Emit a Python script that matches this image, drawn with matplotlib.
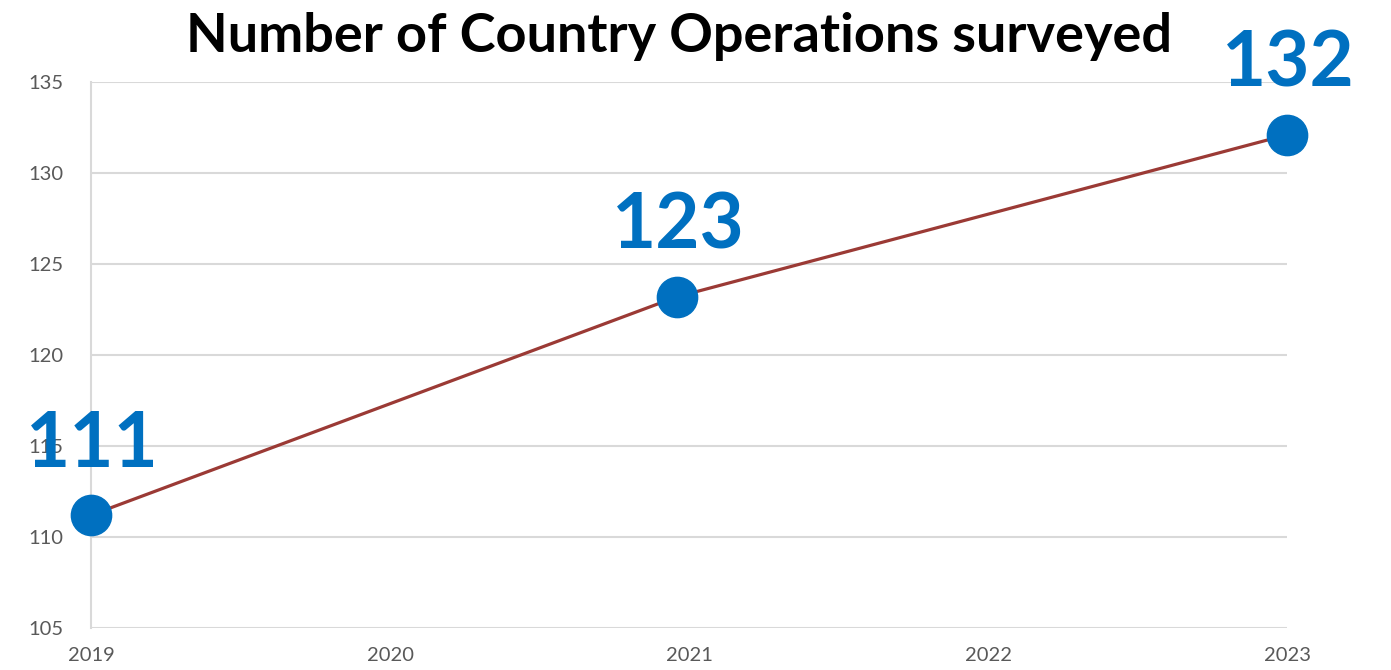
import matplotlib
matplotlib.use('Agg')
import matplotlib.pyplot as plt

# data
years = [2019.0, 2020.96, 2023.0]
operations = [111.2, 123.2, 132.1]
labels = ['111', '123', '132']
x_ticks = [2019, 2020, 2021, 2022, 2023]
y_ticks = [105, 110, 115, 120, 125, 130, 135]

plt.rcParams['font.family'] = ['Lato', 'DejaVu Sans']

fig = plt.figure(figsize=(13.91, 6.70), dpi=100)
ax = fig.add_axes([0.0654, 0.0627, 0.8599, 0.8149])

ax.plot(years, operations, color='#9B3A35', linewidth=2.3, zorder=3)
ax.plot(years, operations, linestyle='none', marker='o', markersize=29,
        color='#0070C0', clip_on=False, zorder=4)

for x, y, t in zip(years, operations, labels):
    ax.annotate(t, (x, y), xytext=(1, 70), textcoords='offset pixels',
                ha='center', va='center', fontsize=55, fontweight='bold',
                color='#0070C0', annotation_clip=False, zorder=5)

ax.set_xlim(2019, 2023)
ax.set_ylim(105, 135)
ax.set_xticks(x_ticks)
ax.set_yticks(y_ticks)
ax.tick_params(length=0, labelsize=14.5, colors='#595959')
ax.tick_params(axis='x', pad=14)
ax.tick_params(axis='y', pad=20)
ax.grid(axis='y', color='#D9D9D9', linewidth=1.5)
for s in ['top', 'right', 'bottom']:
    ax.spines[s].set_visible(False)
ax.spines['left'].set_color('#D9D9D9')
ax.spines['left'].set_linewidth(1.5)

fig.text(0.488, 0.945, 'Number of Country Operations surveyed', ha='center',
         va='center', fontsize=39, fontweight='bold', color='black')

fig.savefig('out.png', dpi=100)
